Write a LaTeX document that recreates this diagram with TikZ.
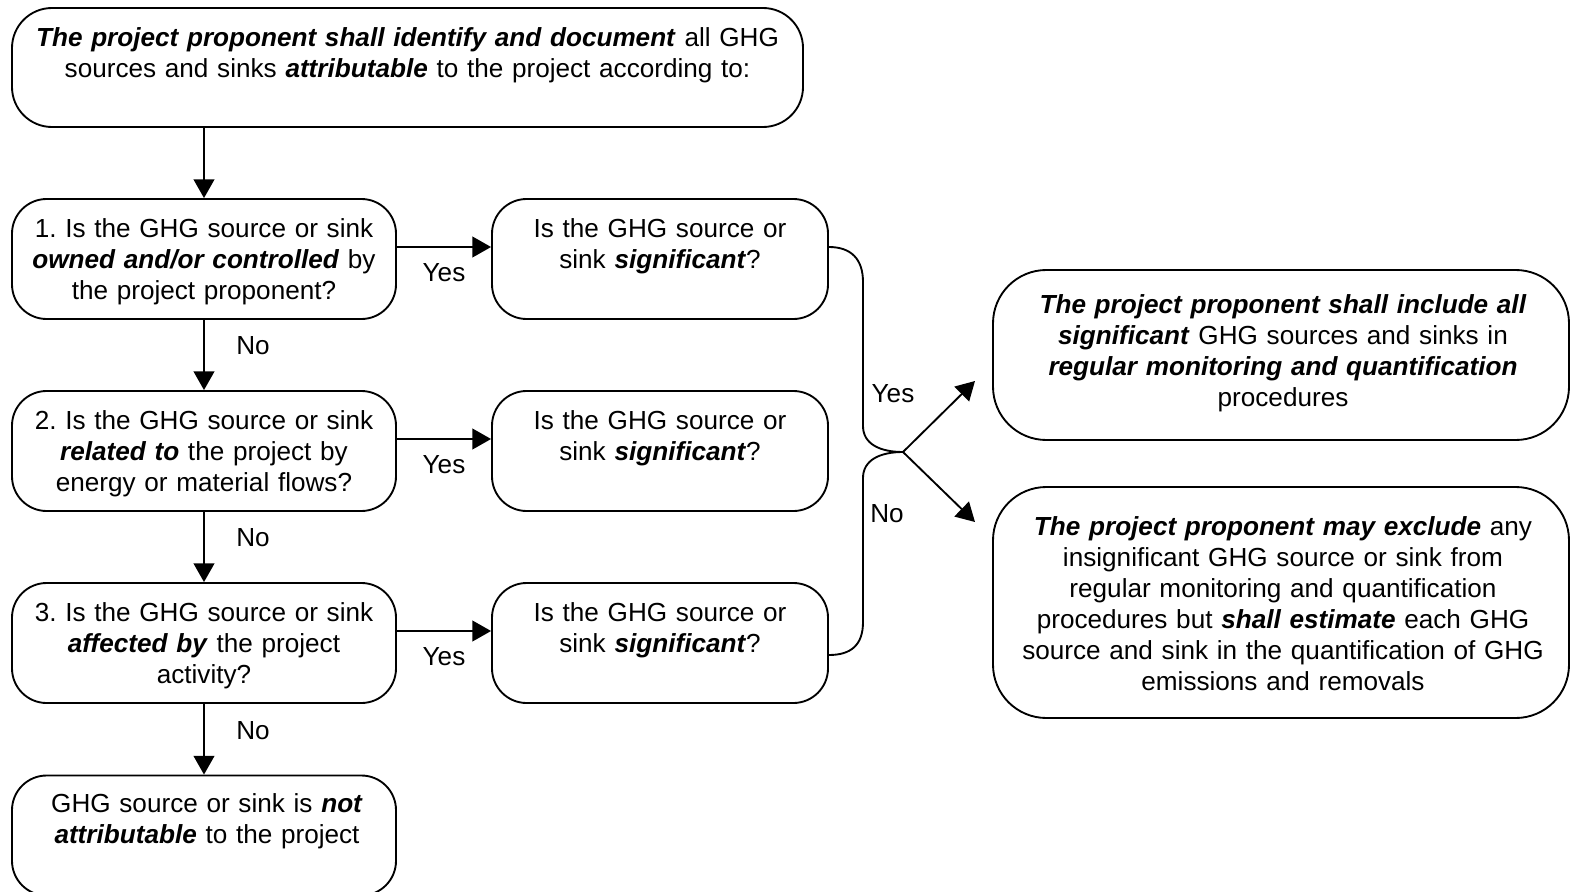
\documentclass[tikz,border=0pt]{standalone}
\usepackage{fontspec}
\setmainfont{Liberation Sans}
\usetikzlibrary{arrows.meta,calc}
\newcommand\bfit[1]{\textbf{\textit{#1}}}
\frenchspacing

\begin{document}
\begin{tikzpicture}[x=0.75pt,y=-0.75pt,
  line width=1.4pt,
  box/.style={draw, rounded corners=26pt, inner sep=0pt, minimum width=288pt, minimum height=90pt},
  sbox/.style={draw, rounded corners=26pt, inner sep=0pt, minimum width=252pt, minimum height=90pt},
  rbox/.style={draw, rounded corners=40pt, inner sep=0pt, minimum width=432pt},
  txt/.style={anchor=base, align=center, inner sep=0pt, text width=600pt,
    font=\fontsize{19.6pt}{23.3pt}\selectfont},
  lbl/.style={font=\fontsize{19.6pt}{23.3pt}\selectfont, inner sep=0pt},
  arr/.style={-{Triangle[length=14pt,width=15.5pt]}}]

\useasboundingbox (0,0) rectangle (1570,892);
\clip (0,0) rectangle (1570,892);

% ---- boxes ----
\node[draw, rounded corners=30pt, inner sep=0pt, minimum width=593.25pt, minimum height=89.25pt] (top) at (407.5,67.5) {};
\node[box] (q1) at (204,259) {};
\node[box] (q2) at (204,451) {};
\node[box] (q3) at (204,643) {};
\node[box] (na) at (204,835.5) {};
\node[sbox] (s1) at (660,259) {};
\node[sbox] (s2) at (660,451) {};
\node[sbox] (s3) at (660,643) {};
\node[rbox, minimum height=127.5pt] (r1) at (1281,355) {};
\node[rbox, minimum height=173.25pt] (r2) at (1281,602.5) {};

% ---- texts ----
\node[txt] (ttop) at ($(top.north)+(0,39)$) {\bfit{The project proponent shall identify and document} all GHG\\ sources and sinks \bfit{attributable} to the project according to:};
\node[txt] (tq1) at ($(q1.north)+(0,39)$) {1. Is the GHG source or sink\\ \bfit{owned and/or controlled} by\\ the project proponent?};
\node[txt] (tq2) at ($(q2.north)+(0,39)$) {2. Is the GHG source or sink\\ \bfit{related to} the project by\\ energy or material flows?};
\node[txt] (tq3) at ($(q3.north)+(0,39)$) {3. Is the GHG source or sink\\ \bfit{affected by} the project\\ activity?};
\node[txt] (tna) at ($(na.north)+(3,38)$) {GHG source or sink is \bfit{not}\\ \bfit{attributable} to the project};
\node[txt] (ts1) at ($(s1.north)+(0,39)$) {Is the GHG source or\\ sink \bfit{significant}?};
\node[txt] (ts2) at ($(s2.north)+(0,39)$) {Is the GHG source or\\ sink \bfit{significant}?};
\node[txt] (ts3) at ($(s3.north)+(0,39)$) {Is the GHG source or\\ sink \bfit{significant}?};
\node[txt] (tr1) at ($(r1.north)+(2,44)$) {\bfit{The project proponent shall include all}\\ \bfit{significant} GHG sources and sinks in\\ \bfit{regular monitoring and quantification}\\ procedures};
\node[txt] (tr2) at ($(r2.north)+(2,49)$) {\bfit{The project proponent may exclude} any\\ insignificant GHG source or sink from\\ regular monitoring and quantification\\ procedures but \bfit{shall estimate} each GHG\\ source and sink in the quantification of GHG\\ emissions and removals};

% ---- vertical flow ----
\draw[arr] (top.south -| q1.north) -- (q1.north);
\draw[arr] (q1.south) -- node[lbl, xshift=36.75pt, yshift=6.75pt] {No} (q2.north);
\draw[arr] (q2.south) -- node[lbl, xshift=36.75pt, yshift=6.75pt] {No} (q3.north);
\draw[arr] (q3.south) -- node[lbl, xshift=36.75pt, yshift=6.75pt] {No} (na.north);

% ---- yes branches ----
\draw[arr] ($(q1.east)+(0,-12)$) -- node[lbl, yshift=-19.5pt] {Yes} ($(s1.west)+(0,-12)$);
\draw[arr] ($(q2.east)+(0,-12)$) -- node[lbl, yshift=-19.5pt] {Yes} ($(s2.west)+(0,-12)$);
\draw[arr] ($(q3.east)+(0,-12)$) -- node[lbl, yshift=-19.5pt] {Yes} ($(s3.west)+(0,-12)$);

% ---- brace joining the significance questions ----
\coordinate (tip) at (903,452);
\draw ($(s1.east)+(0,-12)$) .. controls (851,247) and (863,259) .. (863,282)
  -- (863,426) .. controls (863,444) and (880,452) .. (tip);
\draw (tip) .. controls (880,452) and (863,460) .. (863,478)
  -- (863,622) .. controls (863,645) and (851,655) .. ($(s3.east)+(0,12)$);

% ---- outcome arrows ----
\coordinate (yend) at (975,381);
\coordinate (nend) at (975,522);
\draw[arr] (tip) -- (yend);
\draw[arr] (tip) -- (nend);
\node[lbl] (ylbl) at ($(tip)+(-10,-58)$) {Yes};
\node[lbl] (nlbl) at ($(tip)+(-16,62)$) {No};
\end{tikzpicture}
\end{document}
